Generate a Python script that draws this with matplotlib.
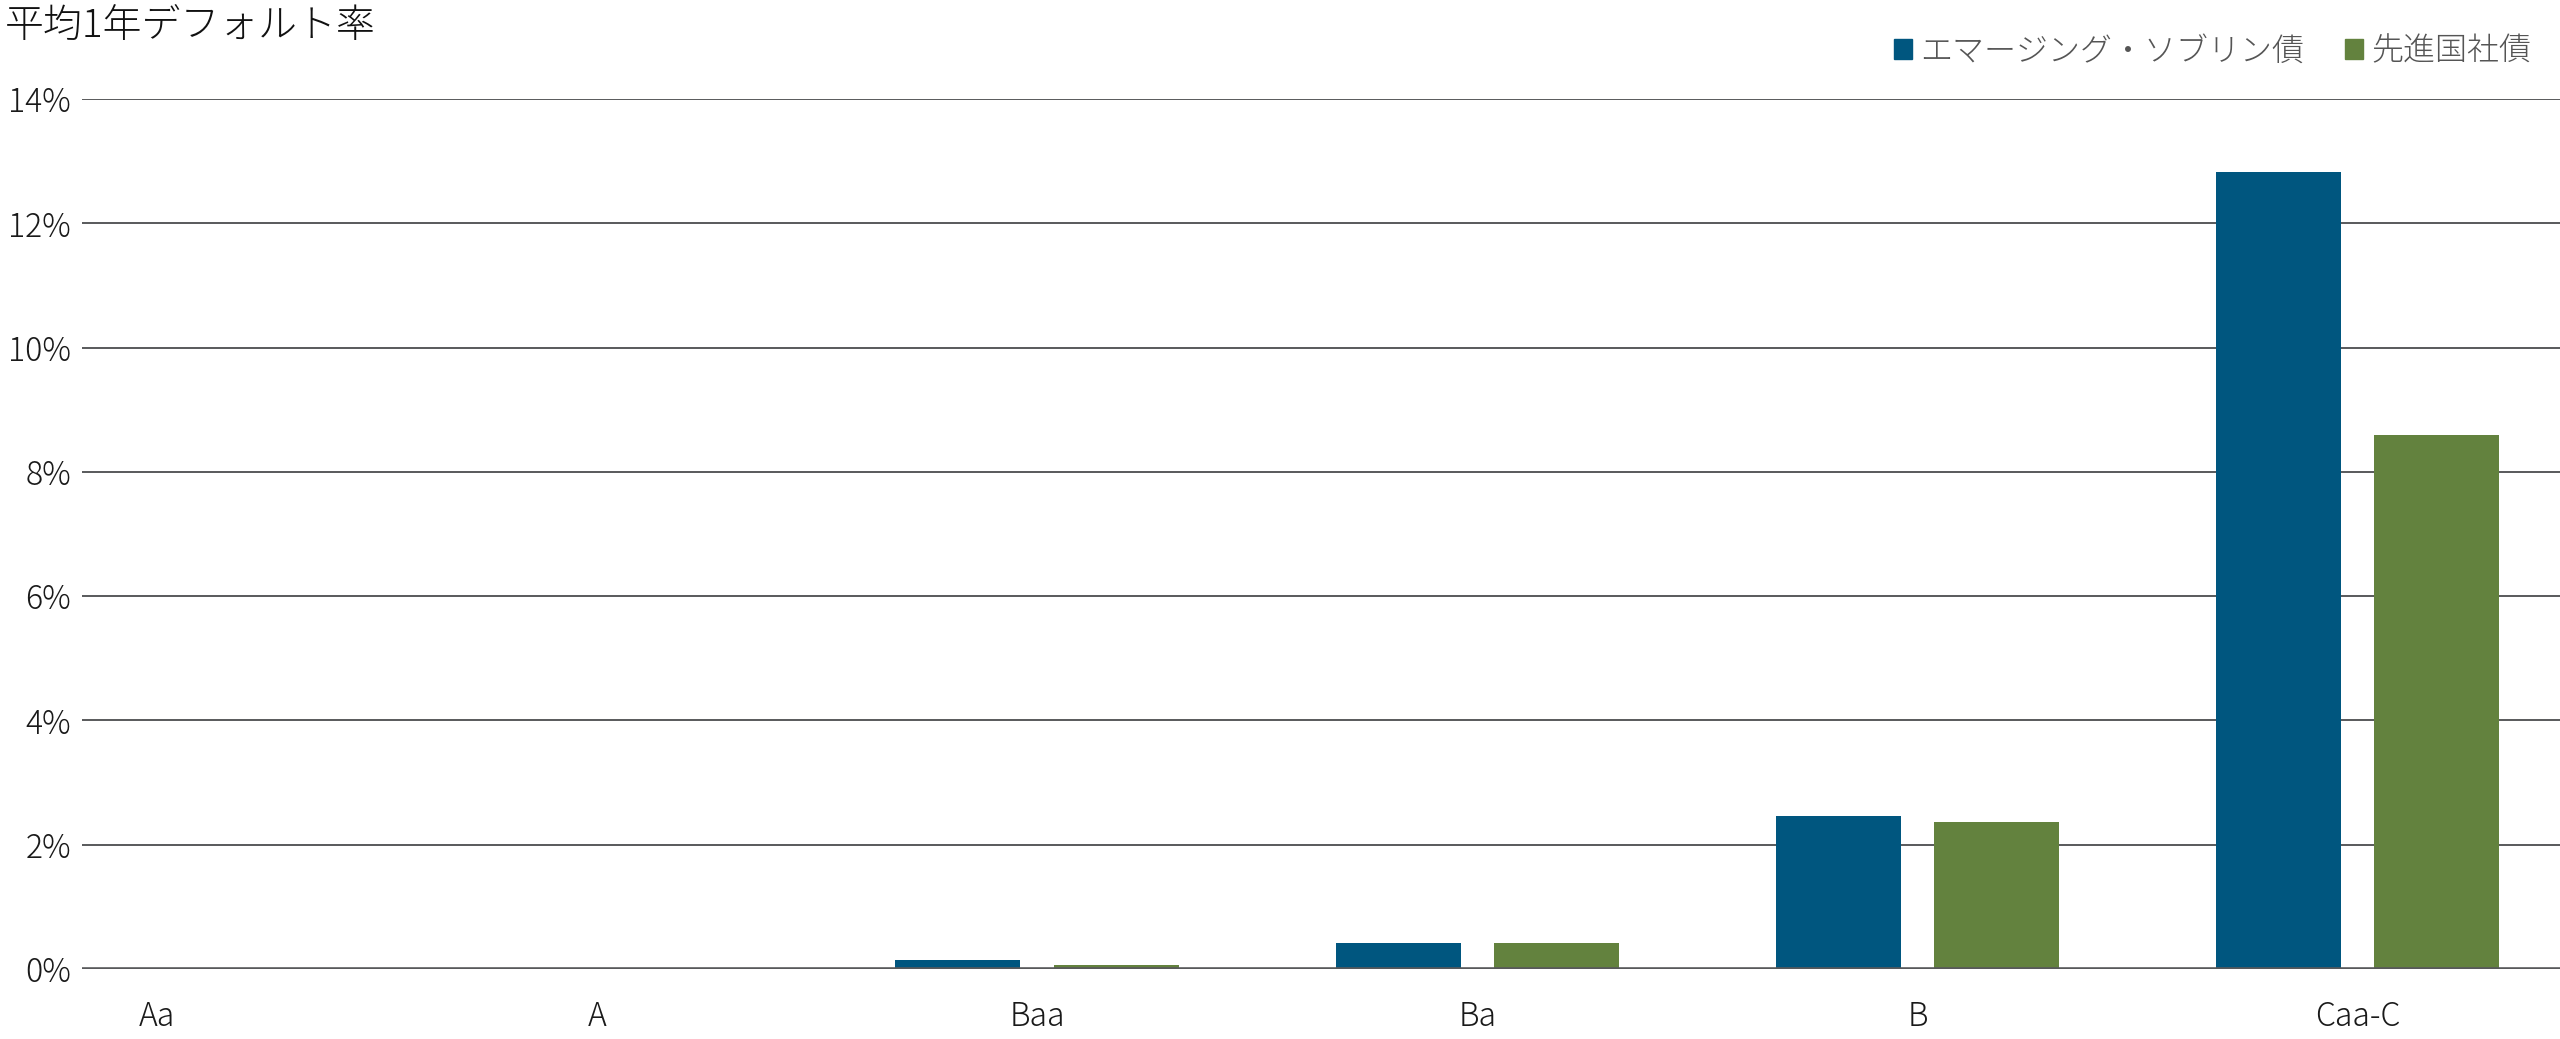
import numpy as np
import matplotlib
matplotlib.use('Agg')
import matplotlib.pyplot as plt
from matplotlib.patches import Patch

plt.rcParams['font.family'] = ['Noto Sans CJK JP', 'DejaVu Sans']
plt.rcParams['font.weight'] = 'light'

# データ（平均1年デフォルト率, %）
categories = ['Aa', 'A', 'Baa', 'Ba', 'B', 'Caa-C']
em_sovereign = [0.0, 0.0, 0.15, 0.42, 2.47, 12.83]
dm_corporate = [0.0, 0.0, 0.07, 0.42, 2.37, 8.59]
series_names = ['エマージング・ソブリン債', '先進国社債']
yticks = [0, 2, 4, 6, 8, 10, 12, 14]

blue = '#00567F'
green = '#63823E'
grid_color = '#58595B'

fig = plt.figure(figsize=(25.6, 10.39), dpi=100)
ax = fig.add_axes([82 / 2560, 1 - 969 / 1039, 1 - 82 / 2560, (969 - 99) / 1039])

x = np.arange(len(categories))
w = 0.284
off = 0.18
ax.bar(x - off, em_sovereign, w, color=blue, zorder=2)
ax.bar(x + off, dm_corporate, w, color=green, zorder=2)

# グリッド線
for t in yticks[1:]:
    ax.axhline(t, color=grid_color, lw=1.4, zorder=1)
ax.axhline(0, color=grid_color, lw=2.6, zorder=3)

ax.set_xlim(-0.17, 5.46)
ax.set_ylim(0, 14)
ax.set_yticks(yticks)
ax.set_yticklabels([f'{t}%' for t in yticks], fontsize=23, color='#1a1a1a')
ax.set_xticks(x)
ax.set_xticklabels(categories, fontsize=23, color='#1a1a1a')
ax.tick_params(axis='y', length=0, pad=8)
ax.tick_params(axis='x', length=0, pad=22)
for s in ax.spines.values():
    s.set_visible(False)

fig.text(5 / 2560, 1 - 26 / 1039, '平均1年デフォルト率', fontsize=28, va='center', ha='left', color='#111111')

handles = [Patch(color=blue), Patch(color=green)]
leg = ax.legend(handles, series_names, loc='center right', bbox_to_anchor=(0.996, 1 + (99 - 51) / 870),
                ncol=2, frameon=False, fontsize=23, handlelength=0.55, handleheight=0.55,
                handletextpad=0.25, columnspacing=1.3, borderaxespad=0.2)
for txt in leg.get_texts():
    txt.set_color('#555555')

fig.savefig('out.png', dpi=100)
